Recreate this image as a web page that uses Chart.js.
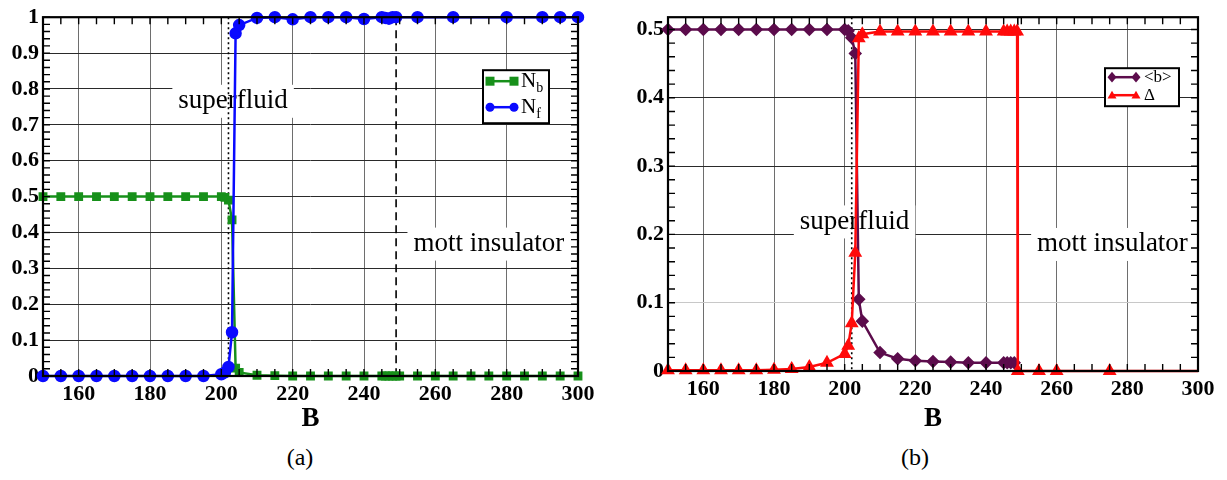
<!DOCTYPE html>
<html>
<head>
<meta charset="utf-8">
<script src="https://cdn.jsdelivr.net/npm/chart.js@4.4.0/dist/chart.umd.min.js"></script>
<style>
  body { margin: 0; width: 1227px; height: 480px; background: #fff; position: relative; overflow: hidden;
         font-family: "Liberation Serif", "Times New Roman", serif; }
  canvas { position: absolute; top: 0; }
  #chartA { left: 0; }
  #chartB { left: 610px; }
  .cap { position: absolute; top: 444px; width: 60px; text-align: center; font-size: 24px; color: #000; }
</style>
</head>
<body>
<canvas id="chartA" width="610" height="440"></canvas>
<canvas id="chartB" width="617" height="440"></canvas>
<div class="cap" style="left:270px">(a)</div>
<div class="cap" style="left:885px">(b)</div>
<script>
const SERIF = '"Liberation Serif", "Times New Roman", serif';

// tick labels
const xTicks = [160, 180, 200, 220, 240, 260, 280, 300];
const yTicksA = [0, 0.1, 0.2, 0.3, 0.4, 0.5, 0.6, 0.7, 0.8, 0.9, 1];
const yTicksB = [0, 0.1, 0.2, 0.3, 0.4, 0.5];

// panel (a): N_b and N_f against B
const nbField = [150, 155, 160, 165, 170, 175, 180, 185, 190, 195, 200, 201, 202, 203, 204, 205,
  210, 215, 220, 225, 230, 235, 240, 245, 246, 247, 248, 249,
  250, 255, 260, 265, 270, 275, 280, 285, 290, 295, 300];
const nbValues = [0.5, 0.5, 0.5, 0.5, 0.5, 0.5, 0.5, 0.5, 0.5, 0.5, 0.5, 0.498, 0.49, 0.435, 0.022, 0.01,
  0.002, 0.001, 0, 0, 0, 0, 0, 0, 0, 0, 0, 0,
  0, 0, 0, 0, 0, 0, 0, 0, 0, 0, 0];

const nfField = [150, 155, 160, 165, 170, 175, 180, 185, 190, 195, 200, 201, 202, 203, 204, 205,
  210, 215, 220, 225, 230, 235, 240, 245, 246, 247, 248, 249,
  255, 265, 280, 290, 295, 300];
const nfValues = [0, 0, 0, 0, 0, 0, 0, 0, 0, 0, 0.005, 0.01, 0.025, 0.122, 0.955, 0.978,
  0.998, 1, 0.994, 1, 1, 1, 0.995, 1, 0.998, 0.996, 1, 1,
  1, 1, 1, 1, 1, 1];

// panel (b): <b> and Delta against B
const bField = [150, 155, 160, 165, 170, 175, 180, 185, 190, 195, 200, 201, 202, 203, 204, 205,
  210, 215, 220, 225, 230, 235, 240, 245, 246, 247, 248];
const bValues = [0.5, 0.5, 0.5, 0.5, 0.5, 0.5, 0.5, 0.5, 0.5, 0.5, 0.5, 0.498, 0.488, 0.465, 0.105, 0.073,
  0.027, 0.018, 0.015, 0.014, 0.013, 0.012, 0.012, 0.012, 0.012, 0.012, 0.012];

const deltaField = [150, 155, 160, 165, 170, 175, 180, 185, 190, 195, 200, 201, 202, 203, 204, 205,
  210, 215, 220, 225, 230, 235, 240, 245, 246, 247, 248, 248.8,
  249, 255, 260, 275, 300];
const deltaValues = [0.001, 0.001, 0.001, 0.001, 0.001, 0.001, 0.002, 0.003, 0.006, 0.012, 0.025, 0.037, 0.07, 0.173, 0.487, 0.493,
  0.497, 0.497, 0.497, 0.497, 0.497, 0.497, 0.497, 0.497, 0.497, 0.497, 0.497, 0.497,
  0, 0, 0, 0, 0];

const pts = (xs, ys) => xs.map((x, i) => ({ x: x, y: ys[i] }));

function marker(ctx, style, x, y, r, color) {
  ctx.fillStyle = color;
  ctx.beginPath();
  if (style === 'rect') ctx.rect(x - r, y - r, 2 * r, 2 * r);
  else if (style === 'circle') ctx.arc(x, y, r, 0, Math.PI * 2);
  else if (style === 'rectRot') {
    ctx.moveTo(x, y - r * 1.2); ctx.lineTo(x + r, y); ctx.lineTo(x, y + r * 1.2); ctx.lineTo(x - r, y); ctx.closePath();
  } else if (style === 'triangle') {
    ctx.moveTo(x, y - r); ctx.lineTo(x + r, y + r * 0.75); ctx.lineTo(x - r, y + r * 0.75); ctx.closePath();
  }
  ctx.fill();
}

// frame, minor ticks, phase lines, text boxes and the boxed legend
const deco = {
  id: 'deco',
  beforeDatasetsDraw(chart, args, o) {
    const { ctx, chartArea: a, scales: { x, y } } = chart;
    ctx.save();
    // white boxes with region labels, cutting through the grid
    ctx.font = '27px ' + SERIF;
    ctx.textAlign = 'center';
    ctx.textBaseline = 'middle';
    o.labels.forEach(l => {
      const w = ctx.measureText(l.text).width;
      const cx = x.getPixelForValue(l.x), cy = y.getPixelForValue(l.y);
      ctx.fillStyle = '#fff';
      ctx.fillRect(cx - w / 2 - 6, cy - 16, w + 12, 33);
      ctx.fillStyle = '#000';
      ctx.fillText(l.text, cx, cy);
    });
    // dotted and dashed vertical lines
    ctx.strokeStyle = '#000';
    ctx.lineWidth = 1.6;
    [[o.dotted, [2, 3]], [o.dashed, [8, 5]]].forEach(([v, dash]) => {
      const px = x.getPixelForValue(v);
      ctx.setLineDash(dash);
      ctx.beginPath(); ctx.moveTo(px, a.top); ctx.lineTo(px, a.bottom); ctx.stroke();
    });
    ctx.setLineDash([]);
    ctx.restore();
  },
  afterDatasetsDraw(chart, args, o) {
    const { ctx, chartArea: a, scales: { x, y } } = chart;
    ctx.save();
    ctx.strokeStyle = '#000';
    // minor ticks inside the frame
    ctx.lineWidth = 1.4;
    ctx.beginPath();
    const nx = Math.round((x.max - x.min) / o.minorX);
    for (let i = 0; i <= nx; i++) {
      const px = x.getPixelForValue(x.min + i * o.minorX);
      ctx.moveTo(px, a.bottom); ctx.lineTo(px, a.bottom - 7);
      ctx.moveTo(px, a.top); ctx.lineTo(px, a.top + 7);
    }
    const ny = Math.floor((y.max - y.min) / o.minorY + 1e-6);
    for (let i = 0; i <= ny; i++) {
      const py = y.getPixelForValue(y.min + i * o.minorY);
      ctx.moveTo(a.left, py); ctx.lineTo(a.left + 7, py);
      ctx.moveTo(a.right, py); ctx.lineTo(a.right - 7, py);
    }
    ctx.stroke();
    // frame
    ctx.lineWidth = 2.2;
    ctx.strokeRect(a.left, a.top, a.width, a.height);
    // legend box
    const L = o.legend;
    const bx = a.right - L.right - L.width, by = a.top + L.top;
    ctx.fillStyle = '#fff';
    ctx.fillRect(bx, by, L.width, L.height);
    ctx.lineWidth = 2;
    ctx.strokeRect(bx, by, L.width, L.height);
    L.items.forEach((it, i) => {
      const ds = chart.data.datasets[it.dataset];
      const ry = by + L.rows[i];
      ctx.strokeStyle = ds.borderColor;
      ctx.lineWidth = 2.5;
      ctx.beginPath(); ctx.moveTo(bx + L.line[0], ry); ctx.lineTo(bx + L.line[1], ry); ctx.stroke();
      marker(ctx, ds.pointStyle, bx + L.line[0], ry, L.r, ds.borderColor);
      marker(ctx, ds.pointStyle, bx + L.line[1], ry, L.r, ds.borderColor);
      ctx.fillStyle = '#000';
      ctx.textAlign = 'left';
      ctx.textBaseline = 'middle';
      ctx.font = L.font;
      ctx.fillText(it.text, bx + L.textX, ry);
      if (it.sub) {
        const w = ctx.measureText(it.text).width;
        ctx.font = L.subFont;
        ctx.fillText(it.sub, bx + L.textX + w, ry + 7);
      }
    });
    ctx.restore();
  }
};

function axisOptions(yTicks, yMax, yWidth, xHeight, gridColorY) {
  const tickFont = { family: SERIF, size: 22, weight: 'bold' };
  return {
    x: {
      type: 'linear', min: 150, max: 300,
      afterBuildTicks: s => { s.ticks = xTicks.map(v => ({ value: v })); },
      afterFit: s => { s.height = xHeight; },
      grid: { color: '#6e6e6e', lineWidth: 1, drawTicks: false },
      border: { display: false },
      ticks: { font: tickFont, color: '#000', padding: 5, maxRotation: 0, autoSkip: false },
      title: { display: true, text: 'B', color: '#000', padding: { top: 0, bottom: 5 },
               font: { family: SERIF, size: 27, weight: 'bold', lineHeight: 1.2 } }
    },
    y: {
      type: 'linear', min: 0, max: yMax,
      afterBuildTicks: s => { s.ticks = yTicks.map(v => ({ value: v })); },
      afterFit: s => { s.width = yWidth; },
      grid: { color: gridColorY, lineWidth: 1, drawTicks: false },
      border: { display: false },
      ticks: { font: tickFont, color: '#000', padding: 4, autoSkip: false,
               callback: v => String(+v.toFixed(1)) }
    }
  };
}

new Chart(document.getElementById('chartA'), {
  type: 'line',
  data: {
    datasets: [{
      label: 'N_b',
      data: pts(nbField, nbValues),
      borderColor: '#17901a', backgroundColor: '#17901a',
      pointStyle: 'rect', pointRadius: 4.5, borderWidth: 2.5, order: 1
    }, {
      label: 'N_f',
      data: pts(nfField, nfValues),
      borderColor: '#0a0aff', backgroundColor: '#0a0aff',
      pointStyle: 'circle', pointRadius: 5, borderWidth: 2.5, order: 0
    }]
  },
  options: {
    responsive: false,
    animation: false,
    events: [],
    clip: false,
    elements: { line: { tension: 0 }, point: { borderWidth: 0 } },
    layout: { padding: { top: 16, right: 32, left: 0, bottom: 0 } },
    scales: axisOptions(yTicksA, 1, 43, 64, '#2a2a2a'),
    plugins: {
      legend: { display: false },
      tooltip: { enabled: false },
      deco: {
        minorX: 5, minorY: 0.02, dotted: 202, dashed: 249,
        labels: [{ text: 'superfluid', x: 203.3, y: 0.767 }, { text: 'mott insulator', x: 275, y: 0.369 }],
        legend: {
          right: 29, top: 53, width: 66, height: 53, line: [7, 31], textX: 38, rows: [11, 37], r: 4.5,
          font: '21px ' + SERIF, subFont: '14px ' + SERIF,
          items: [{ dataset: 0, text: 'N', sub: 'b' }, { dataset: 1, text: 'N', sub: 'f' }]
        }
      }
    }
  },
  plugins: [deco]
});

new Chart(document.getElementById('chartB'), {
  type: 'line',
  data: {
    datasets: [{
      label: '<b>',
      data: pts(bField, bValues),
      borderColor: '#5c0c4c', backgroundColor: '#5c0c4c',
      pointStyle: 'rectRot', pointRadius: 5, borderWidth: 2.5, order: 1
    }, {
      label: 'Δ',
      data: pts(deltaField, deltaValues),
      borderColor: '#ff0a0a', backgroundColor: '#ff0a0a',
      pointStyle: 'triangle',
      pointRadius: c => (c.raw && c.raw.x === 300 ? 0 : 5.5),
      borderWidth: 2.5, order: 0
    }]
  },
  options: {
    responsive: false,
    animation: false,
    events: [],
    clip: false,
    elements: { line: { tension: 0 }, point: { borderWidth: 0 } },
    layout: { padding: { top: 15, right: 29, left: 0, bottom: 0 } },
    scales: axisOptions(yTicksB, 0.518, 58, 69, c => (c.tick && Math.abs(c.tick.value - 0.1) < 1e-6 ? '#c8c8c8' : '#2a2a2a')),
    plugins: {
      legend: { display: false },
      tooltip: { enabled: false },
      deco: {
        minorX: 5, minorY: 0.02, dotted: 202, dashed: 249,
        labels: [{ text: 'superfluid', x: 202.8, y: 0.219 }, { text: 'mott insulator', x: 275.8, y: 0.186 }],
        legend: {
          right: 19, top: 51, width: 74, height: 38, line: [7, 31], textX: 39, rows: [9, 27], r: 4.5,
          font: '17px ' + SERIF, subFont: '12px ' + SERIF,
          items: [{ dataset: 0, text: '<b>' }, { dataset: 1, text: 'Δ' }]
        }
      }
    }
  },
  plugins: [deco]
});
</script>
</body>
</html>
